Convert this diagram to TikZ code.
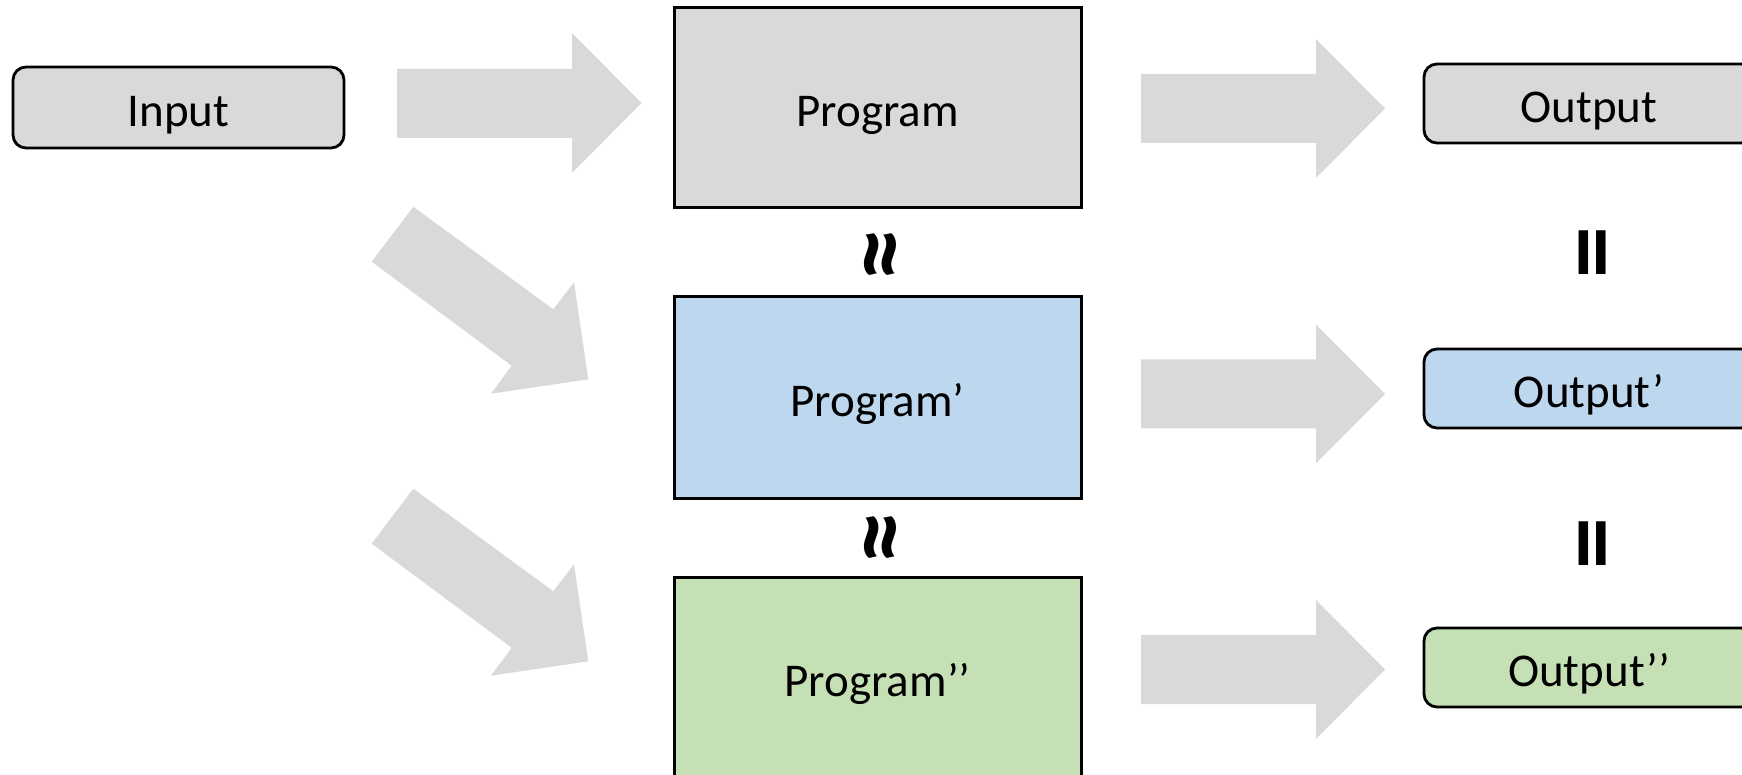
\documentclass[tikz,border=0pt]{standalone}
\usepackage{fontspec}
\setmainfont{Carlito}
\newfontfamily\symfont{Carlito}
\definecolor{boxgray}{HTML}{D9D9D9}
\definecolor{boxblue}{HTML}{BDD7EE}
\definecolor{boxgreen}{HTML}{C5E0B4}
\definecolor{arrowgray}{HTML}{D9D9D9}
\tikzset{
  labeltext/.style={font=\fontsize{23.5}{28}\selectfont, text height=18.6pt, text depth=0pt},
  progbox/.style={labeltext, draw=black, line width=1.5pt, minimum width=203.5pt, minimum height=100pt, inner sep=0pt},
  outbox/.style={labeltext, draw=black, line width=1.4pt, rounded corners=6.5pt, minimum width=165pt, minimum height=39.5pt, inner sep=0pt},
  blockarrow/.style={fill=arrowgray, draw=none},
  relsym/.style={font=\symfont\bfseries\fontsize{52}{60}\selectfont, inner sep=0pt, rotate=90}
}
\begin{document}
\begin{tikzpicture}[x=0.5pt, y=-0.5pt]
\useasboundingbox (0,0) rectangle (1742,775);
% boxes
\node[outbox, fill=boxgray, minimum width=165.5pt, minimum height=40.5pt] (input) at (178.5,107.5) {Input};
\node[progbox, fill=boxgray] (prog) at (877.5,108) {Program};
\node[progbox, fill=boxblue, minimum height=100.5pt] (prog1) at (877.5,397.5) {Program’};
\node[progbox, fill=boxgreen, minimum height=100.5pt] (prog2) at (877.5,677.5) {Program’’};
\node[outbox, fill=boxgray] (out) at (1589,103.5) {Output};
\node[outbox, fill=boxblue] (out1) at (1589,388.5) {Output’};
\node[outbox, fill=boxgreen] (out2) at (1589,667.5) {Output’’};
% relation symbols
\node[relsym] (approx1) at (889,255) {≈};
\node[relsym] (approx2) at (889,538) {≈};
\node[relsym] (eq1) at (1602,253) {=};
\node[relsym] (eq2) at (1602,544) {=};
% horizontal block arrows
\fill[blockarrow] (397,69) -- (572,69) -- (572,33) -- (641.5,103) -- (572,173) -- (572,138) -- (397,138) -- cycle;
\foreach \c in {108.5,394,669.5}{
  \fill[blockarrow] (1141,\c-34.5) -- (1316,\c-34.5) -- (1316,\c-69.5) -- (1385,\c) -- (1316,\c+69.5) -- (1316,\c+34.5) -- (1141,\c+34.5) -- cycle;
}
% diagonal block arrows
\foreach \s in {0,282}{
  \begin{scope}[shift={(0,\s)}]
  \fill[blockarrow] (413.3,206.7) -- (553.3,309.3) -- (574,282.3) -- (588.3,379.3) -- (491,393.7) -- (511.7,365.7) -- (371.7,261.7) -- cycle;
  \end{scope}
}
\end{tikzpicture}
\end{document}
